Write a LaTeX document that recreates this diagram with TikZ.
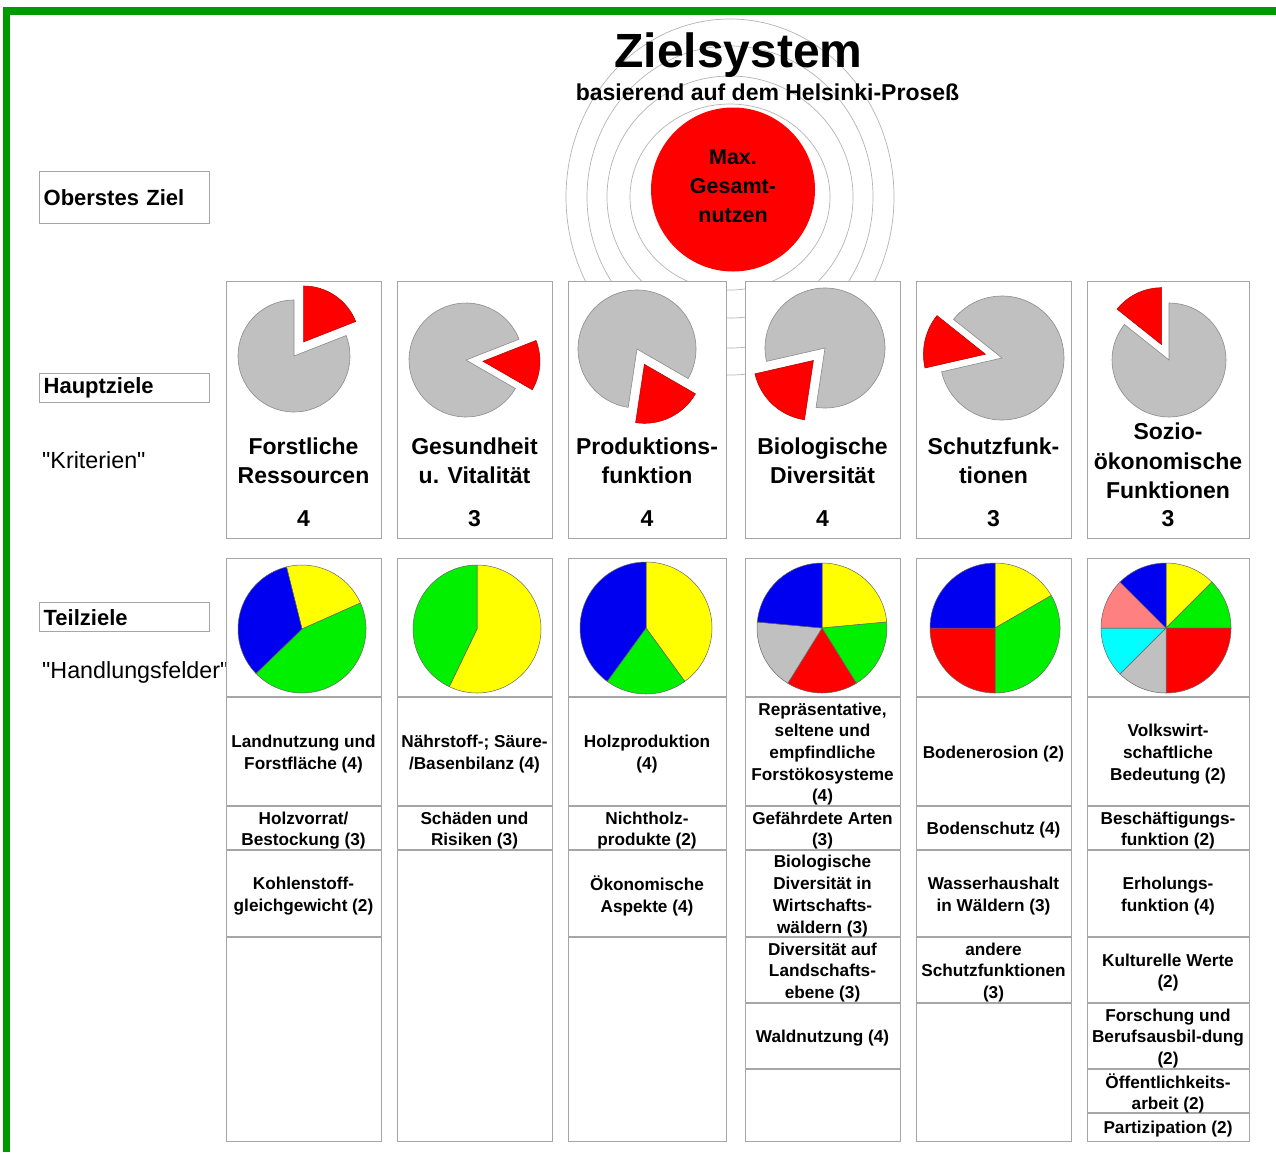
\documentclass[tikz,border=0pt]{standalone}
\usepackage{fontspec}
\setmainfont{Liberation Sans}
\newfontfamily\qfont{Liberation Sans}
\definecolor{frame}{HTML}{009900}
\definecolor{boxline}{HTML}{A6A6A6}
\definecolor{arcgray}{HTML}{B4B4B4}
\definecolor{piegray}{HTML}{C0C0C0}
\definecolor{pyellow}{HTML}{FFFF00}
\definecolor{pgreen}{HTML}{00F000}
\definecolor{pblue}{HTML}{0000F0}
\definecolor{pred}{HTML}{FF0000}
\definecolor{pcyan}{HTML}{00FFFF}
\definecolor{ppink}{HTML}{FF8080}
\newcommand\mysect[6]{\filldraw[fill=#5,#6] (#1) -- ++(#3:#2) arc[start angle=#3,end angle=#4,radius=#2] -- cycle;}
\begin{document}
\begin{tikzpicture}[x=1pt,y=1pt,
  box/.style={draw=boxline, line width=1.3pt, fill=white, inner sep=0pt, anchor=north west},
  cell/.style={font=\fontsize{17.2}{21.7}\selectfont\bfseries, align=center, inner sep=0pt},
  crit/.style={font=\fontsize{23}{29.5}\selectfont\bfseries, align=center, inner sep=0pt},
  lbox/.style={draw=boxline, line width=1.3pt, text width=162pt, inner xsep=4pt, inner ysep=0pt, align=left, anchor=north west, font=\fontsize{22}{26}\selectfont\bfseries},
  divider/.style={draw=boxline, line width=1.3pt},
  arcline/.style={draw=arcgray, line width=0.7pt},
  pieedge/.style={draw=black!60, line width=0.5pt},
  grayedge/.style={draw=black!45, line width=0.6pt},
  rededge/.style={draw=red!70!black, line width=0.5pt},
  quote/.style={anchor=west, inner sep=0pt, font=\qfont\fontsize{23.3}{26}\selectfont},
]
\useasboundingbox (0,0) rectangle (1276,-1152);
\fill[white] (0,0) rectangle (1276,-1152);
\fill[frame] (3,-7) rectangle (1276,-15);
\fill[frame] (3,-7) rectangle (10,-1152);

% concentric arcs
\foreach \rx/\ry in {100/93,123/121,143/151,164/178}
  \draw[arcline] (730,-197) ellipse[x radius=\rx, y radius=\ry];

% title
\node[anchor=base, inner sep=0pt, font=\fontsize{48}{52}\selectfont\bfseries] (title) at (738.5,-67) {Zielsystem};
\node[anchor=base, inner sep=0pt, font=\fontsize{23}{26}\selectfont\bfseries] (subtitle) at (767.5,-100) {basierend auf dem Helsinki-Proseß};

% top goal
\node[circle, fill=pred, minimum size=164pt, inner sep=0pt] (goal) at (733,-189.5) {};
\node[align=center, inner sep=0pt, font=\fontsize{21.5}{29}\selectfont\bfseries] (goaltext) at (733,-186.5) {Max.\\Gesamt-\\nutzen};

% left labels
\node[lbox, minimum height=52pt] (oz) at (39,-171) {Oberstes Ziel};
\node[lbox, minimum height=29pt] (hz) at (39,-373) {Hauptziele};
\node[lbox, minimum height=29pt] (tz) at (39,-602) {Teilziele};
\node[quote] (kr) at (42,-460) {"Kriterien"};
\node[quote] (hf) at (42,-672) {"Handlungsfelder"};

% top row boxes
\node[box, minimum width=155pt, minimum height=257pt] (h1) at (226,-281) {};
\node[box, minimum width=155pt, minimum height=257pt] (h2) at (397,-281) {};
\node[box, minimum width=158pt, minimum height=257pt] (h3) at (568,-281) {};
\node[box, minimum width=155pt, minimum height=257pt] (h4) at (745,-281) {};
\node[box, minimum width=155pt, minimum height=257pt] (h5) at (916,-281) {};
\node[box, minimum width=162pt, minimum height=257pt] (h6) at (1087,-281) {};

% top row pies
\mysect{294,-356}{56}{21.43}{-270}{piegray}{grayedge}
\begin{scope}[shift={(55.7:17)}]\mysect{294,-356}{56}{90}{21.43}{pred}{rededge}\end{scope}
\mysect{466,-360}{57}{-30}{-338.57}{piegray}{grayedge}
\begin{scope}[shift={(-4.3:17)}]\mysect{466,-360}{57}{21.43}{-30}{pred}{rededge}\end{scope}
\mysect{637,-349}{59}{-98.57}{-390}{piegray}{grayedge}
\begin{scope}[shift={(-64.3:17)}]\mysect{637,-349}{59}{-30}{-98.57}{pred}{rededge}\end{scope}
\mysect{825,-348}{60}{-167.14}{-458.57}{piegray}{grayedge}
\begin{scope}[shift={(-132.9:17)}]\mysect{825,-348}{60}{-98.57}{-167.14}{pred}{rededge}\end{scope}
\mysect{1002,-358}{62}{-218.57}{-527.14}{piegray}{grayedge}
\begin{scope}[shift={(-192.9:17)}]\mysect{1002,-358}{62}{-167.14}{-218.57}{pred}{rededge}\end{scope}
\mysect{1169,-360}{57}{-270}{-578.57}{piegray}{grayedge}
\begin{scope}[shift={(-244.3:17)}]\mysect{1169,-360}{57}{-218.57}{-270}{pred}{rededge}\end{scope}

% top row texts
\node[crit] (k1) at (303.5,-461) {Forstliche\\Ressourcen};
\node[crit] (k2) at (474.5,-461) {Gesundheit\\u. Vitalität};
\node[crit] (k3) at (647,-461) {Produktions-\\funktion};
\node[crit] (k4) at (822.5,-461) {Biologische\\Diversität};
\node[crit] (k5) at (993.5,-461) {Schutzfunk-\\tionen};
\node[crit] (k6) at (1168,-461) {Sozio-\\ökonomische\\Funktionen};
\node[crit] (n1) at (303.5,-519) {4};
\node[crit] (n2) at (474.5,-519) {3};
\node[crit] (n3) at (647,-519) {4};
\node[crit] (n4) at (822.5,-519) {4};
\node[crit] (n5) at (993.5,-519) {3};
\node[crit] (n6) at (1168,-519) {3};

% bottom row boxes
\node[box, minimum width=155pt, minimum height=583pt] (t1) at (226,-558) {};
\node[box, minimum width=155pt, minimum height=583pt] (t2) at (397,-558) {};
\node[box, minimum width=158pt, minimum height=583pt] (t3) at (568,-558) {};
\node[box, minimum width=155pt, minimum height=583pt] (t4) at (745,-558) {};
\node[box, minimum width=155pt, minimum height=583pt] (t5) at (916,-558) {};
\node[box, minimum width=162pt, minimum height=583pt] (t6) at (1087,-558) {};

\foreach \y in {697,806,850,937} \draw[divider] (226,-\y) -- (381,-\y);
\foreach \y in {697,806,850} \draw[divider] (397,-\y) -- (552,-\y);
\foreach \y in {697,806,850,937} \draw[divider] (568,-\y) -- (726,-\y);
\foreach \y in {697,806,850,937,1003,1069} \draw[divider] (745,-\y) -- (900,-\y);
\foreach \y in {697,806,850,937,1003} \draw[divider] (916,-\y) -- (1071,-\y);
\foreach \y in {697,806,850,937,1003,1069,1113} \draw[divider] (1087,-\y) -- (1249,-\y);

% bottom row pies
\mysect{302,-629}{64}{104}{24}{pyellow}{pieedge}
\mysect{302,-629}{64}{24}{-136}{pgreen}{pieedge}
\mysect{302,-629}{64}{-136}{-256}{pblue}{pieedge}

\mysect{477,-629}{64}{90}{-115.7}{pyellow}{pieedge}
\mysect{477,-629}{64}{-115.7}{-270}{pgreen}{pieedge}

\mysect{646,-628}{66}{90}{-54}{pyellow}{pieedge}
\mysect{646,-628}{66}{-54}{-126}{pgreen}{pieedge}
\mysect{646,-628}{66}{-126}{-270}{pblue}{pieedge}

\mysect{822,-628}{65}{90}{5.3}{pyellow}{pieedge}
\mysect{822,-628}{65}{5.3}{-58.2}{pgreen}{pieedge}
\mysect{822,-628}{65}{-58.2}{-121.8}{pred}{pieedge}
\mysect{822,-628}{65}{-121.8}{-185.3}{piegray}{pieedge}
\mysect{822,-628}{65}{-185.3}{-270}{pblue}{pieedge}

\mysect{995,-628}{65}{90}{30}{pyellow}{pieedge}
\mysect{995,-628}{65}{30}{-90}{pgreen}{pieedge}
\mysect{995,-628}{65}{-90}{-180}{pred}{pieedge}
\mysect{995,-628}{65}{-180}{-270}{pblue}{pieedge}

\mysect{1166,-628}{65}{90}{45}{pyellow}{pieedge}
\mysect{1166,-628}{65}{45}{0}{pgreen}{pieedge}
\mysect{1166,-628}{65}{0}{-90}{pred}{pieedge}
\mysect{1166,-628}{65}{-90}{-135}{piegray}{pieedge}
\mysect{1166,-628}{65}{-135}{-180}{pcyan}{pieedge}
\mysect{1166,-628}{65}{-180}{-225}{ppink}{pieedge}
\mysect{1166,-628}{65}{-225}{-270}{pblue}{pieedge}

% cell texts column 1
\node[cell] (a1) at (303.5,-754) {Landnutzung und\\Forstfläche (4)};
\node[cell] (a2) at (303.5,-830.5) {Holzvorrat/\\Bestockung (3)};
\node[cell] (a3) at (303.5,-896) {Kohlenstoff-\\gleichgewicht (2)};
% column 2
\node[cell] (b1) at (474.5,-754) {Nährstoff-; Säure-\\/Basenbilanz (4)};
\node[cell] (b2) at (474.5,-830.5) {Schäden und\\Risiken (3)};
% column 3
\node[cell] (c1) at (647,-754) {Holzproduktion\\(4)};
\node[cell] (c2) at (647,-830.5) {Nichtholz-\\produkte (2)};
\node[cell] (c3) at (647,-896) {Ökonomische\\Aspekte (4)};
% column 4
\node[cell] (d1) at (822.5,-754) {Repräsentative,\\seltene und\\empfindliche\\Forstökosysteme\\(4)};
\node[cell] (d2) at (822.5,-830.5) {Gefährdete Arten\\(3)};
\node[cell] (d3) at (822.5,-896) {Biologische\\Diversität in\\Wirtschafts-\\wäldern (3)};
\node[cell] (d4) at (822.5,-972.5) {Diversität auf\\Landschafts-\\ebene (3)};
\node[cell] (d5) at (822.5,-1038.5) {Waldnutzung (4)};
% column 5
\node[cell] (e1) at (993.5,-754) {Bodenerosion (2)};
\node[cell] (e2) at (993.5,-830.5) {Bodenschutz (4)};
\node[cell] (e3) at (993.5,-896) {Wasserhaushalt\\in Wäldern (3)};
\node[cell] (e4) at (993.5,-972.5) {andere\\Schutzfunktionen\\(3)};
% column 6
\node[cell] (f1) at (1168,-754) {Volkswirt-\\schaftliche\\Bedeutung (2)};
\node[cell] (f2) at (1168,-830.5) {Beschäftigungs-\\funktion (2)};
\node[cell] (f3) at (1168,-896) {Erholungs-\\funktion (4)};
\node[cell] (f4) at (1168,-972.5) {Kulturelle Werte\\(2)};
\node[cell] (f5) at (1168,-1038.5) {Forschung und\\Berufsausbil-dung\\(2)};
\node[cell] (f6) at (1168,-1093.5) {Öffentlichkeits-\\arbeit (2)};
\node[cell] (f7) at (1168,-1129) {Partizipation (2)};
\end{tikzpicture}
\end{document}
